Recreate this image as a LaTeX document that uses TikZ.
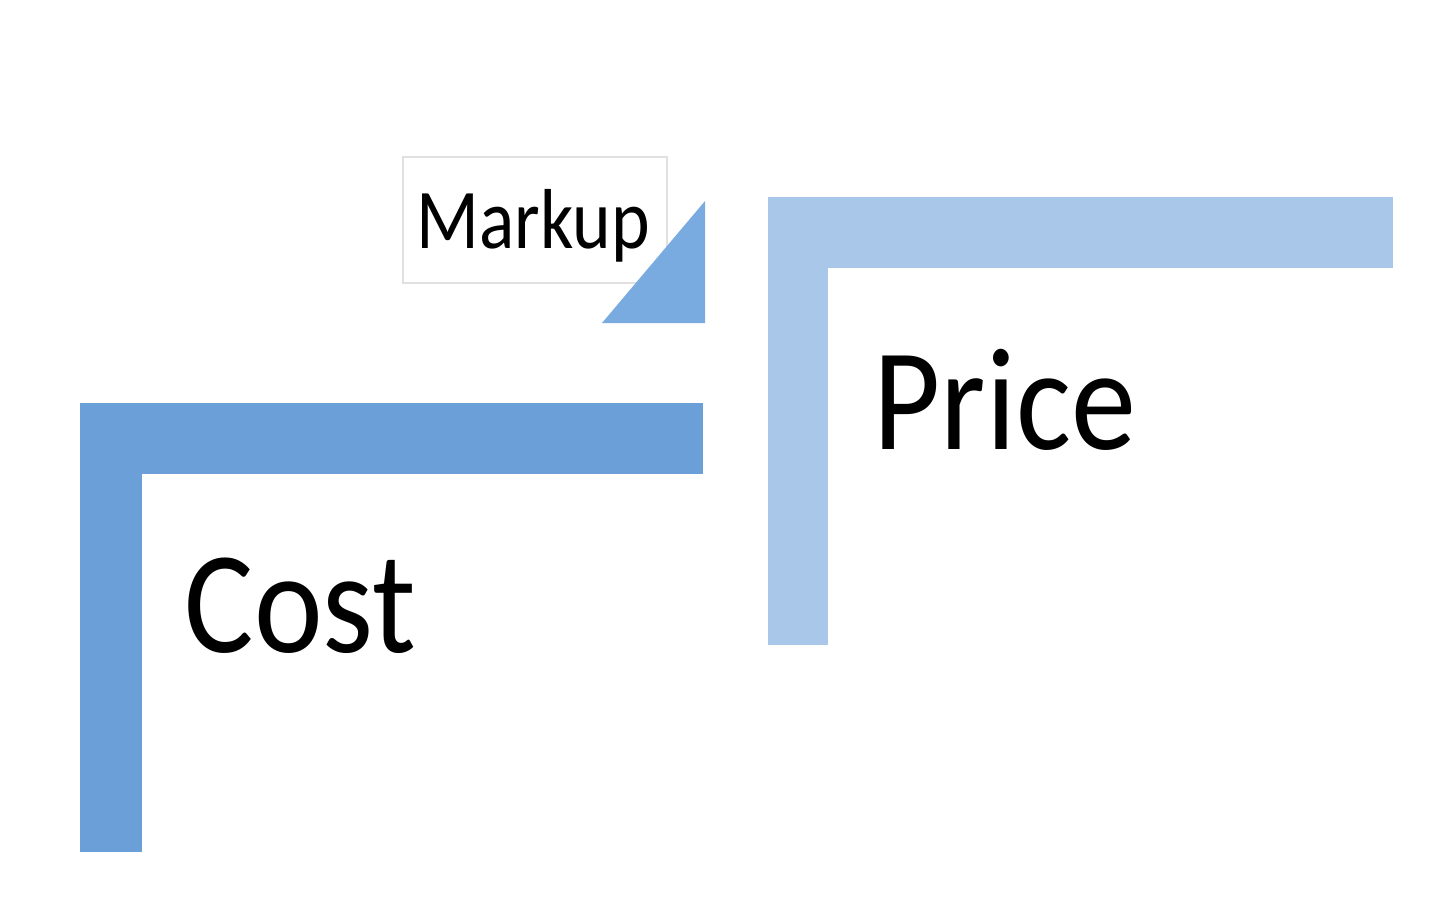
\documentclass[tikz,border=0pt]{standalone}
\usepackage{fontspec}
\setmainfont{Carlito}
\definecolor{costblue}{HTML}{6A9FD8}
\definecolor{markblue}{HTML}{7AABE0}
\definecolor{priceblue}{HTML}{A9C8E9}
\begin{document}
\begin{tikzpicture}[x=0.01cm,y=-0.01cm]
  \useasboundingbox (0,0) rectangle (1440,918);
  \fill[costblue] (80,403) rectangle (703,474);
  \fill[costblue] (80,403) rectangle (142,852);
  \fill[priceblue] (768,197) rectangle (1393,268);
  \fill[priceblue] (768,197) rectangle (828,645);
  \draw[black!12,line width=0.4pt] (403,157) rectangle (667,283);
  \fill[markblue] (602,323) -- (705,323) -- (705,201) -- cycle;
  \node[anchor=base west,inner sep=0pt] (markup) at (416,248)
    {\scalebox{0.95}[1.1]{\fontsize{22}{26}\selectfont Markup}};
  \node[anchor=base west,inner sep=0pt] (price) at (873,449)
    {\scalebox{1}[1.12]{\fontsize{37}{44}\selectfont Price}};
  \node[anchor=base west,inner sep=0pt] (cost) at (184,652)
    {\scalebox{1}[1.12]{\fontsize{37}{44}\selectfont Cost}};
\end{tikzpicture}
\end{document}
